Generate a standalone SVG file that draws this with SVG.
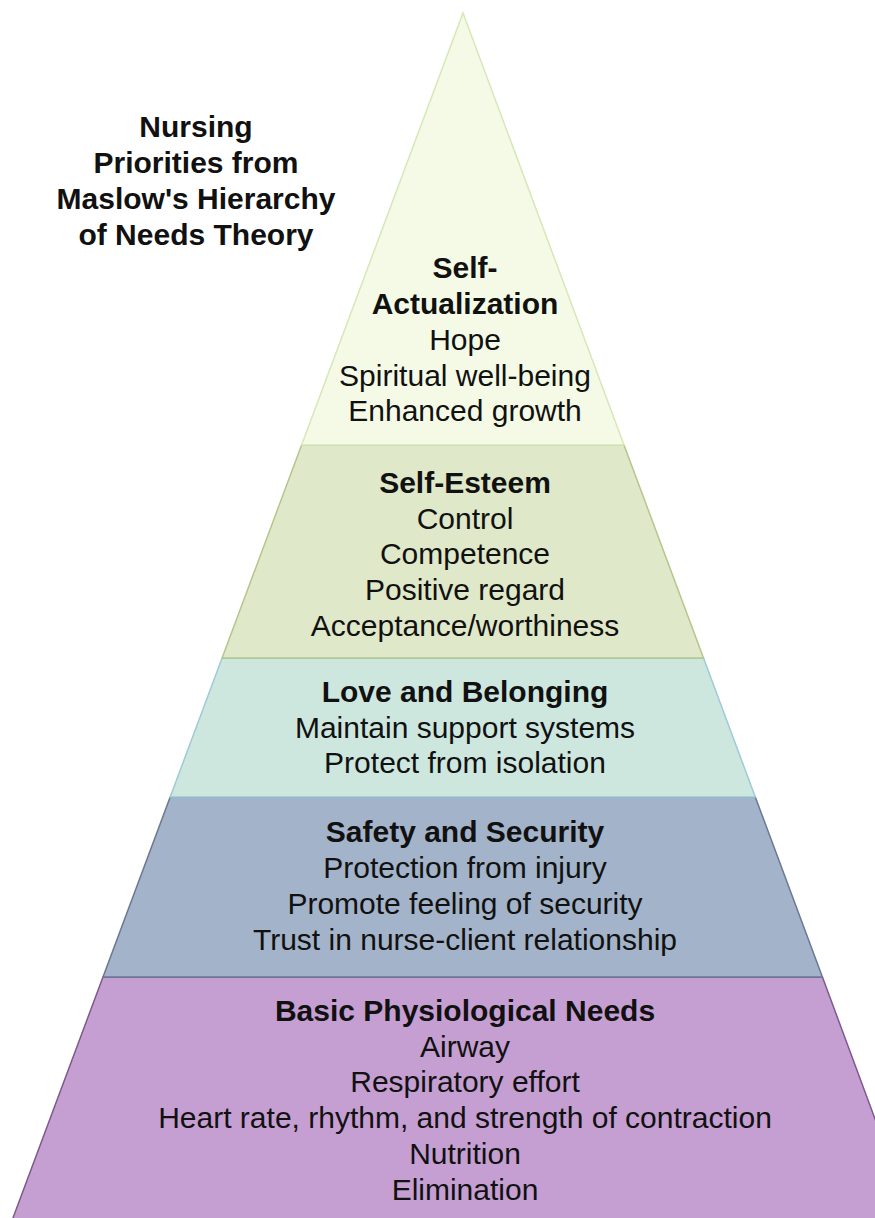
<svg xmlns="http://www.w3.org/2000/svg" width="875" height="1218" viewBox="0 0 875 1218">
  <style>
    .t { font-family: "Liberation Sans", Arial, sans-serif; font-size: 30px; fill: #111; text-anchor: middle; }
    .b { font-weight: bold; }
    .band { stroke-width: 1.5; stroke-linejoin: miter; }
  </style>
  <rect x="0" y="0" width="875" height="1218" fill="#ffffff"/>
  <g id="title">
    <text class="t b" x="196" y="137">Nursing</text>
    <text class="t b" x="196" y="173">Priorities from</text>
    <text class="t b" x="196" y="209">Maslow's Hierarchy</text>
    <text class="t b" x="196" y="245">of Needs Theory</text>
  </g>
  <g id="level-physiological">
    <polygon class="band" points="103,977 822.4,977 914,1224 10.7,1224" fill="#c59fd1" stroke="#7d5a8c"/>
    <text class="t b" x="465" y="1021">Basic Physiological Needs</text>
    <text class="t" x="465" y="1057">Airway</text>
    <text class="t" x="465" y="1092">Respiratory effort</text>
    <text class="t" x="465" y="1128">Heart rate, rhythm, and strength of contraction</text>
    <text class="t" x="465" y="1164">Nutrition</text>
    <text class="t" x="465" y="1200">Elimination</text>
  </g>
  <g id="level-safety">
    <polygon class="band" points="170.2,797 755.3,797 822.4,977 103,977" fill="#a3b3c9" stroke="#6a7894"/>
    <text class="t b" x="465" y="842">Safety and Security</text>
    <text class="t" x="465" y="878">Protection from injury</text>
    <text class="t" x="465" y="914">Promote feeling of security</text>
    <text class="t" x="465" y="950">Trust in nurse-client relationship</text>
  </g>
  <g id="level-love">
    <polygon class="band" points="222.1,658 703.5,658 755.3,797 170.2,797" fill="#cde7df" stroke="#9dcbd6"/>
    <text class="t b" x="465" y="702">Love and Belonging</text>
    <text class="t" x="465" y="738">Maintain support systems</text>
    <text class="t" x="465" y="773">Protect from isolation</text>
  </g>
  <g id="level-esteem">
    <polygon class="band" points="301.6,445 624,445 703.5,658 222.1,658" fill="#dfe8c8" stroke="#b5c68c"/>
    <text class="t b" x="465" y="493">Self-Esteem</text>
    <text class="t" x="465" y="529">Control</text>
    <text class="t" x="465" y="564">Competence</text>
    <text class="t" x="465" y="600">Positive regard</text>
    <text class="t" x="465" y="636">Acceptance/worthiness</text>
  </g>
  <g id="level-self-actualization">
    <polygon class="band" points="463,13 624,445 301.6,445" fill="#f4fae6" stroke="#d6e8b8"/>
    <text class="t b" x="465" y="278">Self-</text>
    <text class="t b" x="465" y="314">Actualization</text>
    <text class="t" x="465" y="350">Hope</text>
    <text class="t" x="465" y="386">Spiritual well-being</text>
    <text class="t" x="465" y="421">Enhanced growth</text>
  </g>
  <g id="connectors"></g>
</svg>
